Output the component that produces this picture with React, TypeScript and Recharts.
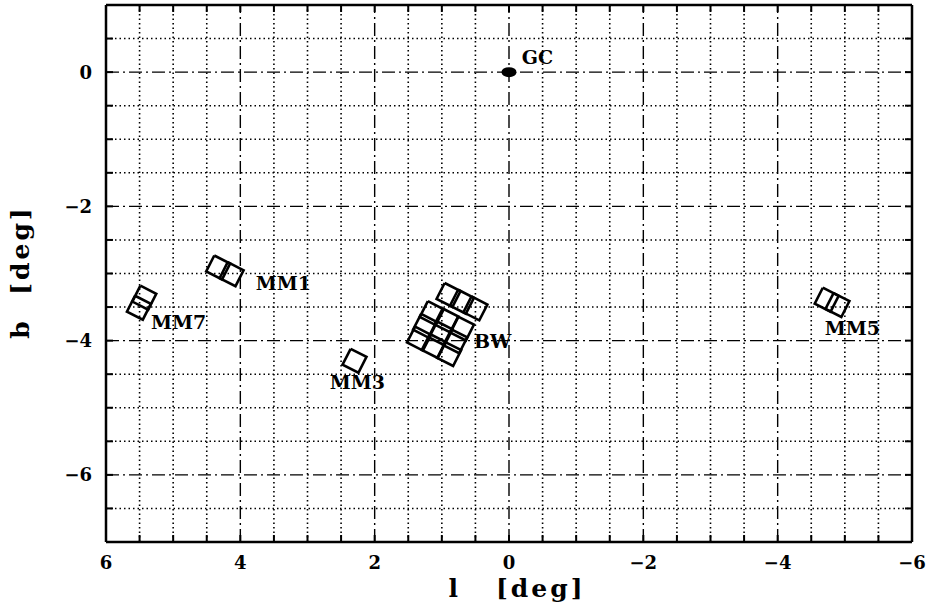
import React from 'react';
import { ScatterChart, Scatter, XAxis, YAxis, ReferenceLine } from 'recharts';

// axis layout (galactic l runs right-to-left)
const xDomain = [-6, 6];
const yDomain = [-7, 1];
const gridStep = 0.5;
const xMajorTicks = [6, 4, 2, 0, -2, -4, -6];
const yMajorTicks = [0, -2, -4, -6];

// field centres in degrees, one entry per square CCD field
const galacticCenter = [{ l: 0, b: 0 }];
const mm1Fields = [
  { l: 4.33, b: -2.91 },
  { l: 4.13, b: -3.01 },
];
const mm7Fields = [
  { l: 5.43, b: -3.36 },
  { l: 5.51, b: -3.51 },
];
const mm3Fields = [{ l: 2.3, b: -4.3 }];
const mm5Fields = [
  { l: -4.73, b: -3.39 },
  { l: -4.89, b: -3.47 },
];
const bwFields = [
  { l: 1.15, b: -3.59 },
  { l: 0.93, b: -3.7 },
  { l: 0.7, b: -3.82 },
  { l: 1.25, b: -3.78 },
  { l: 1.02, b: -3.89 },
  { l: 0.8, b: -4.01 },
  { l: 1.34, b: -3.97 },
  { l: 1.12, b: -4.08 },
  { l: 0.89, b: -4.2 },
  { l: 0.9, b: -3.32 },
  { l: 0.7, b: -3.42 },
  { l: 0.5, b: -3.52 },
];
const fieldLabels = [
  { name: 'GC', l: -0.19, b: 0.23 },
  { name: 'MM1', l: 3.77, b: -3.14 },
  { name: 'MM7', l: 5.33, b: -3.72 },
  { name: 'MM3', l: 2.67, b: -4.62 },
  { name: 'BW', l: 0.52, b: -4.01 },
  { name: 'MM5', l: -4.7, b: -3.81 },
];

const fieldSize = 0.265; // deg
const fieldAngle = 27; // deg, tilt of the equatorial frame

const FONT = '"DejaVu Serif", serif';
const TICK_LEN = 7;

const allFields = [...mm1Fields, ...mm7Fields, ...mm3Fields, ...mm5Fields, ...bwFields];

function steps(min: number, max: number) {
  const out: number[] = [];
  for (let i = 0; min + i * gridStep <= max; i++) out.push(min + i * gridStep);
  return out;
}

const xTicks = steps(xDomain[0], xDomain[1]);
const yTicks = steps(yDomain[0], yDomain[1]);
const xGrid = xTicks.filter((v) => v > xDomain[0] && v < xDomain[1]);
const yGrid = yTicks.filter((v) => v > yDomain[0] && v < yDomain[1]);

function outline(f: { l: number; b: number }) {
  const t = (fieldAngle * Math.PI) / 180;
  const h = fieldSize / 2;
  const u = { l: -Math.cos(t), b: -Math.sin(t) };
  const v = { l: Math.sin(t), b: -Math.cos(t) };
  const c = (a: number, d: number) => ({
    l: f.l + h * (a * u.l + d * v.l),
    b: f.b + h * (a * u.b + d * v.b),
  });
  return [c(-1, -1), c(1, -1), c(1, 1), c(-1, 1), c(-1, -1)];
}

const fmt = (v: number) => (v < 0 ? '\u2212' + Math.abs(v) : String(v));
const isMajor = (v: number) => v % 2 === 0;

const BottomTick = (props: any) => {
  const { x, y, payload } = props;
  const v = payload.value;
  return (
    <g>
      <line x1={x} y1={y} x2={x} y2={y - TICK_LEN} stroke="#000" strokeWidth={2} />
      {xMajorTicks.includes(v) && (
        <text x={x} y={y + 20} textAnchor="middle" dominantBaseline="central" fontFamily={FONT} fontWeight="bold" fontSize={18} fill="#000">
          {fmt(v)}
        </text>
      )}
    </g>
  );
};

const LeftTick = (props: any) => {
  const { x, y, payload } = props;
  const v = payload.value;
  return (
    <g>
      <line x1={x} y1={y} x2={x + TICK_LEN} y2={y} stroke="#000" strokeWidth={2} />
      {yMajorTicks.includes(v) && (
        <text x={x - 14} y={y} textAnchor="end" dominantBaseline="central" fontFamily={FONT} fontWeight="bold" fontSize={18} fill="#000">
          {fmt(v)}
        </text>
      )}
    </g>
  );
};

const TopTick = (props: any) => (
  <line x1={props.x} y1={props.y} x2={props.x} y2={props.y + TICK_LEN} stroke="#000" strokeWidth={2} />
);

const RightTick = (props: any) => (
  <line x1={props.x} y1={props.y} x2={props.x - TICK_LEN} y2={props.y} stroke="#000" strokeWidth={2} />
);

const noDot = () => <g />;

export default function App() {
  const axisLine = { stroke: '#000', strokeWidth: 2.5 };
  return (
    <div style={{ position: 'absolute', left: 0, top: 0, width: 934, height: 604, background: '#fff' }}>
      <ScatterChart width={934} height={604} margin={{ top: 4, right: 21, bottom: 0, left: 0 }}>
        <XAxis
          dataKey="l"
          type="number"
          domain={xDomain}
          reversed
          allowDataOverflow
          ticks={xTicks}
          interval={0}
          tickSize={0}
          tickMargin={0}
          height={62}
          axisLine={axisLine}
          tickLine={false}
          tick={<BottomTick />}
        />
        <XAxis
          xAxisId="top"
          orientation="top"
          dataKey="l"
          type="number"
          domain={xDomain}
          reversed
          allowDataOverflow
          ticks={xTicks}
          interval={0}
          tickSize={0}
          tickMargin={0}
          height={1}
          axisLine={axisLine}
          tickLine={false}
          tick={<TopTick />}
        />
        <YAxis
          dataKey="b"
          type="number"
          domain={yDomain}
          allowDataOverflow
          ticks={yTicks}
          interval={0}
          tickSize={0}
          tickMargin={0}
          width={106}
          axisLine={axisLine}
          tickLine={false}
          tick={<LeftTick />}
        />
        <YAxis
          yAxisId="right"
          orientation="right"
          dataKey="b"
          type="number"
          domain={yDomain}
          allowDataOverflow
          ticks={yTicks}
          interval={0}
          tickSize={0}
          tickMargin={0}
          width={1}
          axisLine={axisLine}
          tickLine={false}
          tick={<RightTick />}
        />

        {xGrid.map((v) => (
          <ReferenceLine
            key={'gx' + v}
            x={v}
            stroke="#000"
            strokeWidth={isMajor(v) ? 1.4 : 1.6}
            strokeDasharray={isMajor(v) ? '13 4 2 4' : '1.5 3'}
          />
        ))}
        {yGrid.map((v) => (
          <ReferenceLine
            key={'gy' + v}
            y={v}
            stroke="#000"
            strokeWidth={isMajor(v) ? 1.4 : 1.6}
            strokeDasharray={isMajor(v) ? '13 4 2 4' : '1.5 3'}
          />
        ))}

        {allFields.map((f, i) => (
          <Scatter
            key={'f' + i}
            data={outline(f)}
            line={{ stroke: '#000', strokeWidth: 2.6 }}
            shape={noDot}
            isAnimationActive={false}
          />
        ))}

        <Scatter
          data={galacticCenter}
          isAnimationActive={false}
          shape={(p: any) => <ellipse cx={p.cx} cy={p.cy} rx={7.5} ry={5} fill="#000" />}
        />
        <Scatter
          data={fieldLabels}
          isAnimationActive={false}
          shape={(p: any) => (
            <text x={p.cx} y={p.cy} dominantBaseline="central" fontFamily={FONT} fontWeight="bold" fontSize={19} fill="#000">
              {p.payload.name}
            </text>
          )}
        />
      </ScatterChart>

      <div
        style={{
          position: 'absolute',
          left: 517,
          top: 588,
          transform: 'translate(-50%, -50%)',
          fontFamily: FONT,
          fontWeight: 'bold',
          fontSize: 25,
          letterSpacing: 3,
          whiteSpace: 'pre',
          lineHeight: 1,
        }}
      >
        {'l   [deg]'}
      </div>
      <div
        style={{
          position: 'absolute',
          left: 20,
          top: 272,
          transform: 'translate(-50%, -50%) rotate(-90deg)',
          fontFamily: FONT,
          fontWeight: 'bold',
          fontSize: 25,
          letterSpacing: 3,
          whiteSpace: 'pre',
          lineHeight: 1,
        }}
      >
        {'b  [deg]'}
      </div>
    </div>
  );
}
